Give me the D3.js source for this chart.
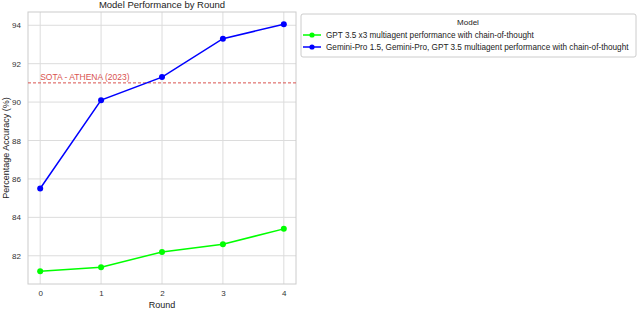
<!DOCTYPE html>
<html>
<head>
<meta charset="utf-8">
<script src="https://cdn.jsdelivr.net/npm/d3@7"></script>
<style>
  body { margin: 0; background: #fff; }
  svg { font-family: "Liberation Sans", Arial, sans-serif; }
</style>
</head>
<body>
<svg id="chart" width="640" height="309"></svg>
<script>
// chart data
var rounds = [0, 1, 2, 3, 4];
var gptValues = [81.2, 81.4, 82.2, 82.6, 83.4];
var geminiValues = [85.5, 90.1, 91.3, 93.3, 94.05];
var sotaValue = 91.0;
var yTicks = [82, 84, 86, 88, 90, 92, 94];
var seriesNames = [
  'GPT 3.5 x3 multiagent performance with chain-of-thought',
  'Gemini-Pro 1.5, Gemini-Pro, GPT 3.5 multiagent performance with chain-of-thought'
];
var seriesColors = ['#00ff00', '#0000ff'];

var svg = d3.select('#chart');
var margin = {top: 12, right: 344, bottom: 25, left: 28};
var width = 640 - margin.left - margin.right;
var height = 309 - margin.top - margin.bottom;
var g = svg.append('g').attr('transform', 'translate(' + margin.left + ',' + margin.top + ')');

var x = d3.scaleLinear().domain([-0.2, 4.2]).range([0, width]);
var y = d3.scaleLinear().domain([80.53, 94.69]).range([height, 0]);

// grid
g.append('g').selectAll('line').data(rounds).enter().append('line')
  .attr('x1', function(d) { return x(d); }).attr('x2', function(d) { return x(d); })
  .attr('y1', 0).attr('y2', height)
  .attr('stroke', '#dcdcdc').attr('stroke-width', 1);
g.append('g').selectAll('line').data(yTicks).enter().append('line')
  .attr('y1', function(d) { return y(d); }).attr('y2', function(d) { return y(d); })
  .attr('x1', 0).attr('x2', width)
  .attr('stroke', '#dcdcdc').attr('stroke-width', 1);

// frame
g.append('rect').attr('width', width).attr('height', height)
  .attr('fill', 'none').attr('stroke', '#cccccc').attr('stroke-width', 1);

// axes
var xAxis = g.append('g').attr('transform', 'translate(0,' + height + ')')
  .call(d3.axisBottom(x).tickValues(rounds).tickFormat(d3.format('d')).tickSize(0).tickPadding(6));
var yAxis = g.append('g')
  .call(d3.axisLeft(y).tickValues(yTicks).tickFormat(d3.format('d')).tickSize(0).tickPadding(7));
[xAxis, yAxis].forEach(function(a) {
  a.select('.domain').remove();
  a.selectAll('text').attr('fill', '#333').style('font-size', '8px')
    .style('font-family', '"Liberation Sans", Arial, sans-serif');
});

// SOTA line
g.append('line')
  .attr('x1', 0).attr('x2', width)
  .attr('y1', y(sotaValue)).attr('y2', y(sotaValue))
  .attr('stroke', '#d9534f').attr('stroke-width', 1).attr('stroke-dasharray', '3,2');
g.append('text')
  .attr('x', x(0)).attr('y', y(sotaValue) - 3)
  .attr('fill', '#d9534f').style('font-size', '8.5px')
  .text('SOTA - ATHENA (2023)');

// series
var line = d3.line()
  .x(function(d, i) { return x(rounds[i]); })
  .y(function(d) { return y(d); });

[gptValues, geminiValues].forEach(function(vals, k) {
  g.append('path').datum(vals)
    .attr('fill', 'none').attr('stroke', seriesColors[k]).attr('stroke-width', 1.5)
    .attr('d', line);
  g.append('g').selectAll('circle').data(vals).enter().append('circle')
    .attr('cx', function(d, i) { return x(rounds[i]); })
    .attr('cy', function(d) { return y(d); })
    .attr('r', 3).attr('fill', seriesColors[k]);
});

// title and axis labels
svg.append('text').attr('x', margin.left + width / 2).attr('y', 8)
  .attr('text-anchor', 'middle').attr('fill', '#222').style('font-size', '9.5px')
  .text('Model Performance by Round');
svg.append('text').attr('x', margin.left + width / 2).attr('y', 308)
  .attr('text-anchor', 'middle').attr('fill', '#222').style('font-size', '9px')
  .text('Round');
svg.append('text')
  .attr('transform', 'translate(9,' + (margin.top + height / 2) + ') rotate(-90)')
  .attr('text-anchor', 'middle').attr('fill', '#222').style('font-size', '9px')
  .text('Percentage Accuracy (%)');

// legend
var legend = svg.append('g').attr('transform', 'translate(301,14)');
legend.append('rect').attr('width', 335).attr('height', 43).attr('rx', 2)
  .attr('fill', '#fff').attr('stroke', '#cccccc');
legend.append('text').attr('x', 167).attr('y', 11).attr('text-anchor', 'middle')
  .attr('fill', '#222').style('font-size', '8px').text('Model');
seriesNames.forEach(function(name, k) {
  var ly = 21 + k * 12;
  legend.append('line').attr('x1', 2).attr('x2', 20).attr('y1', ly).attr('y2', ly)
    .attr('stroke', seriesColors[k]).attr('stroke-width', 1.5);
  legend.append('circle').attr('cx', 11).attr('cy', ly).attr('r', 2.6).attr('fill', seriesColors[k]);
  legend.append('text').attr('x', 25).attr('y', ly + 3)
    .attr('fill', '#222').style('font-size', '8.2px').text(name);
});
</script>
</body>
</html>
